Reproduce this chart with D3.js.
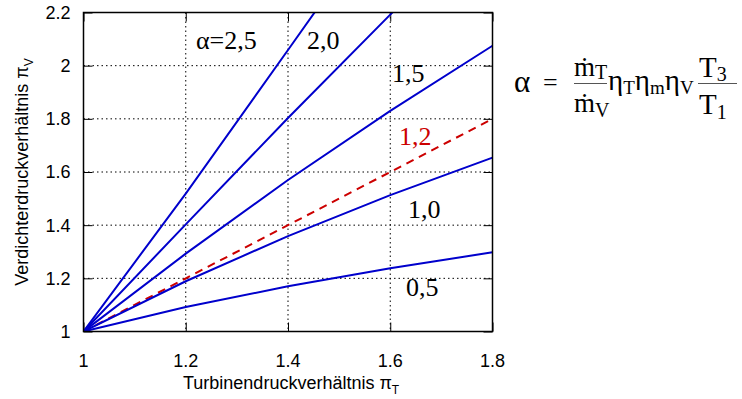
<!DOCTYPE html>
<html>
<head>
<meta charset="utf-8">
<script src="https://cdn.jsdelivr.net/npm/d3@7/dist/d3.min.js"></script>
<style>
  html, body { margin: 0; padding: 0; background: #fff; }
  svg { display: block; }
  .tick-label { font-family: 'Liberation Sans', Arial, sans-serif; font-size: 18px; fill: #000; }
  .axis-title { font-family: 'Liberation Sans', Arial, sans-serif; font-size: 18px; fill: #000; }
  .curve-label { font-family: 'Liberation Serif', 'Times New Roman', serif; font-size: 26px; }
  .formula { font-family: 'Liberation Serif', 'DejaVu Serif', serif; fill: #000; }
</style>
</head>
<body>
<svg id="chart" width="742" height="399"></svg>
<script>
// turbine pressure ratio (x) where the curves are sampled
const piT = [1, 1.2, 1.4, 1.6, 1.8];
// compressor pressure ratio for each alpha
const piV_a25 = [1, 1.519, 2.059, 2.602, 3.138];
const piV_a20 = [1, 1.403, 1.803, 2.192, 2.568];
const piV_a15 = [1, 1.293, 1.570, 1.830, 2.075];
const piV_a10 = [1, 1.189, 1.359, 1.513, 1.654];
const piV_a05 = [1, 1.092, 1.170, 1.238, 1.298];
// dashed red line (alpha = 1,2)
const piV_a12 = [1, 1.2, 1.4, 1.6, 1.8];

const xTicks = [1, 1.2, 1.4, 1.6, 1.8];
const yTicks = [1, 1.2, 1.4, 1.6, 1.8, 2, 2.2];

const blueSeries = [piV_a25, piV_a20, piV_a15, piV_a10, piV_a05];

// label text + where it sits (pixels)
const curveLabels = [
  { text: 'α=2,5', x: 196, y: 49, color: '#000' },
  { text: '2,0', x: 307, y: 49, color: '#000' },
  { text: '1,5', x: 392, y: 82, color: '#000' },
  { text: '1,2', x: 399, y: 145, color: '#cc0000' },
  { text: '1,0', x: 408, y: 218, color: '#000' },
  { text: '0,5', x: 406, y: 296, color: '#000' }
];

const svg = d3.select('#chart');
const margin = { left: 83.5, right: 249.5, top: 12.5, bottom: 67.5 };
const W = 742, H = 399;
const width = W - margin.left - margin.right;
const height = H - margin.top - margin.bottom;

const x = d3.scaleLinear().domain([1, 1.8]).range([0, width]);
const y = d3.scaleLinear().domain([1, 2.2]).range([height, 0]);

const g = svg.append('g').attr('transform', `translate(${margin.left},${margin.top})`);

svg.append('defs').append('clipPath').attr('id', 'plotclip')
  .append('rect').attr('x', 0).attr('y', 0).attr('width', width).attr('height', height);

// Add grid (dotted)
g.append('g').selectAll('line.vg')
  .data(xTicks.slice(1, -1))
  .enter().append('line')
  .attr('x1', d => x(d)).attr('x2', d => x(d))
  .attr('y1', 0).attr('y2', height)
  .attr('stroke', '#000').attr('stroke-width', 1).attr('stroke-dasharray', '1.5,3');

g.append('g').selectAll('line.hg')
  .data(yTicks.slice(1, -1))
  .enter().append('line')
  .attr('x1', 0).attr('x2', width)
  .attr('y1', d => y(d)).attr('y2', d => y(d))
  .attr('stroke', '#000').attr('stroke-width', 1).attr('stroke-dasharray', '1.5,3');

// Axes with inward ticks, mirrored
const tl = 9;
g.append('g').attr('transform', `translate(0,${height})`)
  .call(d3.axisBottom(x).tickValues(xTicks).tickSizeInner(-tl).tickSizeOuter(0).tickFormat(''))
  .call(a => a.select('.domain').remove());
g.append('g')
  .call(d3.axisTop(x).tickValues(xTicks).tickSizeInner(-tl).tickSizeOuter(0).tickFormat(''))
  .call(a => a.select('.domain').remove());
g.append('g')
  .call(d3.axisLeft(y).tickValues(yTicks).tickSizeInner(-tl).tickSizeOuter(0).tickFormat(''))
  .call(a => a.select('.domain').remove());
g.append('g').attr('transform', `translate(${width},0)`)
  .call(d3.axisRight(y).tickValues(yTicks).tickSizeInner(-tl).tickSizeOuter(0).tickFormat(''))
  .call(a => a.select('.domain').remove());
g.selectAll('.tick line').attr('stroke', '#000').attr('stroke-width', 1);

// Tick labels
g.append('g').selectAll('text')
  .data(xTicks).enter().append('text')
  .attr('class', 'tick-label')
  .attr('x', d => x(d)).attr('y', height + 35)
  .attr('text-anchor', 'middle')
  .text(d => String(d));

g.append('g').selectAll('text')
  .data(yTicks).enter().append('text')
  .attr('class', 'tick-label')
  .attr('x', -13).attr('y', d => y(d)).attr('dy', '0.36em')
  .attr('text-anchor', 'end')
  .text(d => String(d));

// Curves
const line = d3.line().x((d, i) => x(piT[i])).y(d => y(d));
const curves = g.append('g').attr('clip-path', 'url(#plotclip)');

curves.append('path')
  .datum(piV_a12)
  .attr('d', line)
  .attr('fill', 'none')
  .attr('stroke', '#cc0000')
  .attr('stroke-width', 2)
  .attr('stroke-dasharray', '8,6');

curves.selectAll('.blue')
  .data(blueSeries).enter().append('path')
  .attr('class', 'blue')
  .attr('d', line)
  .attr('fill', 'none')
  .attr('stroke', '#0000cc')
  .attr('stroke-width', 2);

// Frame
g.append('rect')
  .attr('x', 0).attr('y', 0).attr('width', width).attr('height', height)
  .attr('fill', 'none').attr('stroke', '#000').attr('stroke-width', 1.5);

// Curve labels
svg.append('g').selectAll('text')
  .data(curveLabels).enter().append('text')
  .attr('class', 'curve-label')
  .attr('x', d => d.x).attr('y', d => d.y)
  .attr('fill', d => d.color)
  .text(d => d.text);

// Axis titles
const xt = svg.append('text').attr('class', 'axis-title')
  .attr('x', 183).attr('y', 389);
xt.append('tspan').text('Turbinendruckverhältnis π');
xt.append('tspan').attr('dy', 5).attr('font-size', 12).text('T');

const yt = svg.append('text').attr('class', 'axis-title')
  .attr('transform', 'translate(28,172) rotate(-90)')
  .attr('text-anchor', 'middle');
yt.append('tspan').text('Verdichterdruckverhältnis π');
yt.append('tspan').attr('dy', 5).attr('font-size', 12).text('V');

// Formula
const f = svg.append('g').attr('class', 'formula');
f.append('text').attr('x', 514).attr('y', 92).attr('font-size', 31).text('α');
f.append('text').attr('x', 543).attr('y', 91).attr('font-size', 26).text('=');

const num1 = f.append('text').attr('x', 574).attr('y', 76).attr('font-size', 27);
num1.append('tspan').text('ṁ');
num1.append('tspan').attr('dy', 3).attr('font-size', 20).text('T');
f.append('line').attr('x1', 574).attr('x2', 607).attr('y1', 83.5).attr('y2', 83.5)
  .attr('stroke', '#555').attr('stroke-width', 1);
const den1 = f.append('text').attr('x', 574).attr('y', 112).attr('font-size', 27);
den1.append('tspan').text('ṁ');
den1.append('tspan').attr('dy', 5).attr('font-size', 20).text('V');

const etas = f.append('text').attr('x', 608).attr('y', 90).attr('font-size', 29);
etas.append('tspan').text('η');
etas.append('tspan').attr('dy', 4).attr('font-size', 19).text('T');
etas.append('tspan').attr('dy', -4).text('η');
etas.append('tspan').attr('dy', 4).attr('font-size', 19).text('m');
etas.append('tspan').attr('dy', -4).text('η');
etas.append('tspan').attr('dy', 4).attr('font-size', 19).text('V');

const num2 = f.append('text').attr('x', 699).attr('y', 77).attr('font-size', 29);
num2.append('tspan').text('T');
num2.append('tspan').attr('dy', 4).attr('font-size', 20).text('3');
f.append('line').attr('x1', 698).attr('x2', 737).attr('y1', 83.5).attr('y2', 83.5)
  .attr('stroke', '#555').attr('stroke-width', 1);
const den2 = f.append('text').attr('x', 699).attr('y', 114).attr('font-size', 29);
den2.append('tspan').text('T');
den2.append('tspan').attr('dy', 5).attr('font-size', 20).text('1');
</script>
</body>
</html>
